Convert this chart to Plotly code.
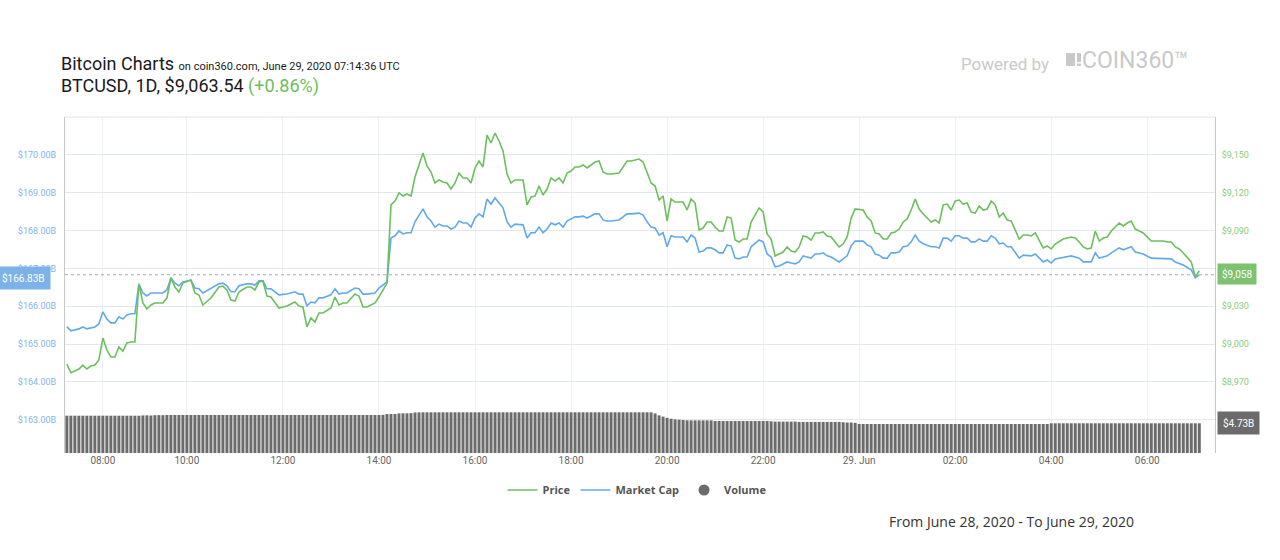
import plotly.graph_objects as go
import pandas as pd

# ---------------- data ----------------
# sample times (June 28 from 07:15, June 29 after midnight); the feed has no samples 08:45-08:55
times = [
 "07:15","07:20","07:30","07:35","07:40","07:45","07:50","07:55","08:00","08:05","08:10","08:15","08:20","08:25","08:30","08:35","08:40",
 "09:00","09:05","09:10","09:15","09:20","09:30","09:35","09:40","09:45","09:50","09:55","10:05","10:10","10:15","10:20","10:30","10:40",
 "10:45","10:50","10:55","11:00","11:05","11:15","11:20","11:25","11:30","11:35","11:40","11:45","11:55","12:05","12:15","12:20","12:25",
 "12:30","12:35","12:40","12:45","12:50","13:00","13:05","13:10","13:15","13:20","13:30","13:35","13:40","13:45","13:55","14:00","14:10",
 "14:15","14:20","14:25","14:30","14:35","14:40","14:45","14:55","15:00","15:05","15:10","15:15","15:20","15:25","15:30","15:35","15:40",
 "15:45","15:50","15:55","16:00","16:05","16:10","16:15","16:20","16:25","16:30","16:35","16:40","16:45","16:50","17:00","17:05","17:10",
 "17:15","17:20","17:25","17:30","17:35","17:40","17:45","17:50","17:55","18:00","18:05","18:10","18:15","18:20","18:30","18:35","18:40",
 "18:45","18:50","19:00","19:05","19:10","19:15","19:25","19:30","19:35","19:40","19:45","19:50","19:55","20:00","20:05","20:10","20:20",
 "20:25","20:30","20:35","20:40","20:45","20:50","20:55","21:00","21:05","21:10","21:15","21:20","21:25","21:30","21:35","21:40","21:45",
 "21:55","22:00","22:05","22:10","22:15","22:20","22:25","22:30","22:35","22:40","22:45","22:50","22:55","23:00","23:05","23:10","23:15",
 "23:20","23:25","23:35","23:40","23:45","23:50","23:55","00:05","00:10","00:15","00:20","00:25","00:30","00:35","00:40","00:45","00:50",
 "00:55","01:00","01:05","01:10","01:15","01:20","01:30","01:35","01:40","01:45","01:50","01:55","02:00","02:05","02:10","02:15","02:20",
 "02:25","02:30","02:35","02:40","02:45","02:50","02:55","03:00","03:05","03:10","03:20","03:25","03:30","03:35","03:40","03:50","03:55",
 "04:00","04:05","04:15","04:25","04:30","04:35","04:40","04:45","04:50","04:55","05:00","05:05","05:10","05:15","05:25","05:30","05:35",
 "05:40","05:45","05:50","05:55","06:05","06:10","06:20","06:25","06:30","06:35","06:40","06:45","06:55","07:00","07:05"]

price = [
 8984.2,8977.3,8980.3,8983.4,8980.3,8982.6,8983.4,8987.4,9004.8,8995.3,8989.8,8989.8,8997.7,8994.5,9000.9,9001.7,9001.7,
 9047.6,9032.6,9027.8,9031.0,9032.6,9032.6,9036.5,9052.4,9045.3,9041.3,9048.4,9050.8,9040.5,9038.9,9031.0,9036.5,9045.3,
 9046.0,9042.9,9035.0,9034.2,9041.3,9045.3,9045.3,9042.9,9049.2,9050.0,9038.1,9037.3,9028.6,9030.2,9033.4,9030.2,9029.4,
 9013.6,9020.7,9017.5,9024.7,9024.7,9028.6,9037.3,9031.0,9032.6,9032.6,9039.7,9038.1,9029.4,9029.4,9032.6,9037.3,9048.4,
 9110.3,9113.4,9119.8,9117.4,9119.0,9117.4,9132.4,9151.5,9141.2,9136.4,9127.7,9130.1,9128.5,9127.7,9122.9,9127.7,9135.6,
 9131.7,9131.7,9127.7,9139.6,9145.1,9140.4,9165.7,9159.4,9167.3,9161.0,9153.1,9134.8,9127.7,9130.1,9130.1,9110.3,9116.6,
 9117.4,9125.3,9118.2,9122.9,9131.7,9129.3,9131.7,9127.7,9135.6,9137.2,9140.4,9140.4,9142.0,9139.6,9144.3,9145.1,9136.4,
 9134.8,9134.8,9135.6,9140.4,9145.1,9145.1,9146.7,9144.3,9135.6,9127.7,9125.3,9114.2,9117.4,9097.6,9115.0,9112.6,9112.6,
 9106.3,9115.0,9111.8,9090.4,9092.0,9096.8,9096.8,9092.8,9089.6,9089.6,9100.7,9099.9,9082.5,9080.9,9083.3,9083.3,9096.8,
 9107.9,9104.7,9087.3,9083.3,9069.8,9071.4,9073.0,9077.0,9073.8,9073.0,9077.0,9085.7,9084.9,9082.5,9088.1,9088.1,9088.9,
 9085.7,9084.9,9077.0,9079.3,9084.9,9099.9,9107.1,9106.3,9100.7,9097.6,9088.1,9087.3,9083.3,9083.3,9088.1,9088.9,9091.2,
 9096.8,9099.2,9106.3,9115.0,9107.1,9103.1,9096.8,9098.4,9096.0,9110.3,9111.0,9106.3,9113.4,9114.2,9111.0,9111.8,9104.7,
 9103.9,9109.5,9106.3,9107.1,9113.4,9110.3,9100.7,9103.9,9098.4,9097.6,9083.3,9086.5,9086.5,9085.7,9088.1,9076.2,9077.8,
 9075.4,9079.3,9083.3,9084.9,9084.1,9080.9,9077.0,9075.4,9076.2,9089.6,9081.7,9084.1,9084.9,9089.6,9096.0,9093.6,9096.0,
 9097.6,9091.2,9089.6,9088.1,9081.7,9081.7,9081.7,9080.9,9080.9,9077.0,9075.4,9072.2,9065.1,9053.2,9058.0]

market_cap = [
 165.46,165.35,165.40,165.45,165.40,165.43,165.45,165.53,165.85,165.66,165.56,165.56,165.72,165.66,165.77,165.80,165.80,
 166.59,166.35,166.27,166.35,166.35,166.35,166.43,166.75,166.61,166.54,166.64,166.69,166.48,166.46,166.35,166.46,166.59,
 166.61,166.54,166.38,166.38,166.54,166.59,166.59,166.56,166.67,166.67,166.46,166.46,166.30,166.32,166.38,166.32,166.32,
 166.01,166.11,166.09,166.22,166.22,166.30,166.46,166.32,166.35,166.35,166.48,166.46,166.32,166.32,166.35,166.48,166.64,
 167.80,167.86,167.99,167.91,167.94,167.94,168.23,168.57,168.36,168.25,168.09,168.17,168.12,168.12,168.04,168.09,168.25,
 168.20,168.20,168.09,168.33,168.44,168.36,168.83,168.70,168.86,168.73,168.60,168.23,168.09,168.17,168.15,167.80,167.94,
 167.94,168.09,167.94,168.04,168.20,168.15,168.20,168.09,168.25,168.31,168.36,168.36,168.38,168.33,168.44,168.44,168.28,
 168.25,168.25,168.28,168.36,168.44,168.44,168.46,168.41,168.23,168.09,168.07,167.88,167.94,167.57,167.86,167.83,167.83,
 167.70,167.88,167.80,167.43,167.46,167.54,167.54,167.49,167.41,167.41,167.62,167.59,167.27,167.25,167.30,167.30,167.57,
 167.75,167.70,167.38,167.30,167.04,167.06,167.12,167.17,167.14,167.12,167.17,167.33,167.30,167.27,167.38,167.38,167.41,
 167.33,167.30,167.17,167.25,167.33,167.59,167.72,167.72,167.62,167.57,167.38,167.35,167.27,167.27,167.41,167.41,167.43,
 167.57,167.59,167.70,167.88,167.72,167.65,167.57,167.57,167.54,167.80,167.80,167.72,167.86,167.86,167.80,167.80,167.70,
 167.70,167.78,167.72,167.72,167.86,167.80,167.65,167.67,167.57,167.57,167.27,167.35,167.35,167.33,167.38,167.17,167.22,
 167.14,167.25,167.30,167.33,167.30,167.27,167.17,167.17,167.17,167.41,167.27,167.30,167.33,167.41,167.54,167.49,167.54,
 167.57,167.43,167.41,167.38,167.27,167.27,167.27,167.27,167.25,167.17,167.14,167.09,166.96,166.75,166.83]

# 24h volume (billions USD), one bar every 5 minutes
volume_early = [  # 07:15 .. 08:40
 5.94,5.94,5.94,5.94,5.94,5.94,
 5.94,5.94,5.94,5.94,5.94,5.94,5.94,5.94,5.94,5.94,5.94,5.94]
volume_late = [   # 09:00 .. 07:05 next day
 5.94,5.98,6.00,5.97,6.02,6.03,6.02,6.05,6.05,6.05,6.05,6.05,
 6.05,6.05,6.05,6.05,6.05,6.05,6.05,6.05,6.05,6.05,6.05,6.05,
 6.05,6.05,6.05,6.05,6.05,6.05,6.05,6.05,6.05,6.05,6.05,6.05,
 6.05,6.05,6.05,6.05,6.05,6.05,6.05,6.05,6.05,6.05,6.05,6.05,
 6.05,6.05,6.05,6.05,6.05,6.05,6.05,6.05,6.05,6.05,6.05,6.05,
 6.05,6.08,6.20,6.22,6.22,6.30,6.32,6.32,6.35,6.45,6.47,6.48,
 6.48,6.48,6.48,6.48,6.48,6.48,6.48,6.48,6.48,6.48,6.48,6.48,
 6.48,6.48,6.48,6.48,6.48,6.48,6.48,6.48,6.48,6.48,6.48,6.48,
 6.48,6.48,6.48,6.48,6.48,6.48,6.48,6.48,6.48,6.48,6.48,6.48,
 6.48,6.48,6.48,6.48,6.48,6.48,6.48,6.48,6.48,6.48,6.48,6.48,
 6.48,6.48,6.48,6.48,6.48,6.48,6.48,6.48,6.48,6.30,6.00,5.80,
 5.60,5.45,5.35,5.30,5.25,5.20,5.20,5.20,5.20,5.20,5.20,5.20,
 5.10,5.10,5.10,5.10,5.10,5.10,5.10,5.10,5.10,5.10,5.10,5.10,
 5.10,5.10,5.05,5.00,5.00,5.00,5.00,5.00,5.00,4.95,4.95,4.95,
 4.95,4.95,4.95,4.95,4.95,4.95,4.95,4.95,4.90,4.85,4.85,4.80,
 4.62,4.62,4.62,4.62,4.62,4.62,4.62,4.62,4.62,4.62,4.62,4.62,
 4.62,4.62,4.62,4.62,4.62,4.62,4.62,4.62,4.62,4.62,4.62,4.62,
 4.62,4.62,4.62,4.62,4.62,4.62,4.62,4.62,4.62,4.62,4.62,4.62,
 4.62,4.62,4.62,4.62,4.62,4.62,4.62,4.62,4.62,4.62,4.62,4.62,
 4.73,4.73,4.73,4.73,4.73,4.73,4.73,4.73,4.73,4.73,4.73,4.73,
 4.73,4.73,4.73,4.73,4.73,4.73,4.73,4.73,4.73,4.73,4.73,4.73,
 4.73,4.73,4.73,4.73,4.73,4.73,4.73,4.73,4.73,4.73,4.73,4.73,
 4.73,4.73]

tick_times = ["2020-06-28 08:00","2020-06-28 10:00","2020-06-28 12:00","2020-06-28 14:00","2020-06-28 16:00",
              "2020-06-28 18:00","2020-06-28 20:00","2020-06-28 22:00","2020-06-29 00:00","2020-06-29 02:00",
              "2020-06-29 04:00","2020-06-29 06:00"]
tick_labels = ["08:00","10:00","12:00","14:00","16:00","18:00","20:00","22:00","29. Jun","02:00","04:00","06:00"]
cap_ticks = [163, 164, 165, 166, 167, 168, 169, 170]
price_ticks = [8970, 9000, 9030, 9090, 9120, 9150]

header_price = 9063.54
header_change = 0.86

# ---------------- build ----------------
x_line = [("2020-06-28 " if t >= "07:15" else "2020-06-29 ") + t for t in times]
x_vol = list(pd.date_range("2020-06-28 07:15", periods=len(volume_early), freq="5min")) + \
        list(pd.date_range("2020-06-28 09:00", periods=len(volume_late), freq="5min"))
volume = volume_early + volume_late

GREEN = "#6cbf5c"
BLUE = "#62a9ec"
GREY = "#6b6b6b"

fig = go.Figure()
fig.add_trace(go.Bar(x=x_vol, y=volume, yaxis="y3", marker=dict(color=GREY, line=dict(width=0)),
                     showlegend=False, name="Volume"))
fig.add_trace(go.Scatter(x=x_line, y=price, yaxis="y2", mode="lines", name="Price",
                         line=dict(color=GREEN, width=1.6)))
fig.add_trace(go.Scatter(x=x_line, y=market_cap, yaxis="y", mode="lines", name="Market Cap",
                         line=dict(color=BLUE, width=1.6)))
fig.add_trace(go.Scatter(x=[None], y=[None], mode="markers", name="Volume",
                         marker=dict(color=GREY, size=11, symbol="circle")))

def px_x(p):
    return (p - 65) / 1150.0

def px_y(p):
    return (453 - p) / 336.0

annotations = [
    dict(text="Bitcoin Charts <span style='font-size:11px'>on coin360.com, June 29, 2020 07:14:36 UTC</span>",
         x=px_x(59), y=px_y(64), xref="paper", yref="paper", xanchor="left", yanchor="middle",
         showarrow=False, font=dict(family="Roboto", size=18, color="#1a1a1a")),
    dict(text=f"BTCUSD, 1D, ${header_price:,.2f} <span style='color:{GREEN}'>(+{header_change:.2f}%)</span>",
         x=px_x(59), y=px_y(86), xref="paper", yref="paper", xanchor="left", yanchor="middle",
         showarrow=False, font=dict(family="Roboto", size=18, color="#1a1a1a")),
    dict(text="Powered by", x=px_x(1051), y=px_y(64), xref="paper", yref="paper", xanchor="right",
         yanchor="middle", showarrow=False, font=dict(family="Roboto", size=17, color="#c9c9c9")),
    dict(text="COIN360™", x=px_x(1080), y=px_y(61), xref="paper", yref="paper", xanchor="left",
         yanchor="middle", showarrow=False, font=dict(family="Roboto", size=23, color="#c9c9c9")),
    dict(text="From June 28, 2020 - To June 29, 2020", x=px_x(1011), y=px_y(521), xref="paper", yref="paper",
         xanchor="center", yanchor="middle", showarrow=False, font=dict(family="Open Sans", size=14, color="#333333")),
    dict(text=f"${market_cap[-1]:.2f}B", x=0, xref="paper", xanchor="right", xshift=-14,
         y=market_cap[-1], yref="y", yanchor="middle", yshift=-3, showarrow=False,
         bgcolor="#7cb2e8", borderpad=5, font=dict(family="Roboto", size=10, color="white")),
    dict(text=f"${price[-1]:,.0f}", x=1, xref="paper", xanchor="left", xshift=2,
         y=price[-1], yref="y2", yanchor="middle", yshift=-3, showarrow=False,
         bgcolor="#7dc36f", borderpad=4, font=dict(family="Roboto", size=10, color="white")),
    dict(text=f"${volume[-1]:.2f}B", x=1, xref="paper", xanchor="left", xshift=2,
         y=volume[-1], yref="y3", yanchor="middle", showarrow=False,
         bgcolor="#6b6b6b", borderpad=5, font=dict(family="Roboto", size=10, color="white")),
]

shapes = [
    dict(type="line", xref="paper", yref="y", x0=0, x1=1, y0=market_cap[-1], y1=market_cap[-1],
         line=dict(color="#a8a8a8", width=1, dash="dot")),
    dict(type="line", xref="paper", yref="paper", x0=0, x1=1, y0=1, y1=1,
         line=dict(color="#dfe5ee", width=1)),
    # COIN360 logo blocks
    dict(type="rect", xref="paper", yref="paper", x0=px_x(1066), x1=px_x(1075), y0=px_y(66), y1=px_y(53),
         fillcolor="#c9c9c9", line=dict(width=0)),
    dict(type="rect", xref="paper", yref="paper", x0=px_x(1077), x1=px_x(1081), y0=px_y(62), y1=px_y(53),
         fillcolor="#c9c9c9", line=dict(width=0)),
    dict(type="rect", xref="paper", yref="paper", x0=px_x(1077), x1=px_x(1081), y0=px_y(66), y1=px_y(63.5),
         fillcolor="#c9c9c9", line=dict(width=0)),
]

fig.update_layout(
    width=1280, height=560,
    margin=dict(l=65, r=65, t=117, b=107),
    paper_bgcolor="white", plot_bgcolor="white",
    bargap=0.25,
    showlegend=True,
    legend=dict(orientation="h", x=px_x(637), xanchor="center", y=px_y(490), yanchor="middle",
                font=dict(family="Open Sans", size=11, color="#555555", weight="bold"),
                bgcolor="rgba(0,0,0,0)"),
    xaxis=dict(type="date", range=["2020-06-28 07:12:40", "2020-06-29 07:24:38"],
               rangebreaks=[dict(bounds=["2020-06-28 08:42:30", "2020-06-28 08:57:30"])],
               tickmode="array", tickvals=tick_times, ticktext=tick_labels,
               showgrid=True, gridcolor="#eef1f5", zeroline=False, showline=False,
               tickfont=dict(family="Roboto", size=10, color="#666666"), ticks=""),
    yaxis=dict(range=[162.12, 171.0], side="left", tickmode="array", tickvals=cap_ticks,
               ticktext=[f"${v:.2f}B" for v in cap_ticks], showgrid=True, gridcolor="#e1e7ef",
               zeroline=False, showline=True, linecolor="#c8c8c8", linewidth=1,
               ticklabelstandoff=6,
               tickfont=dict(family="Roboto", size=9, color="#7fb5ec")),
    yaxis2=dict(range=[8913.7, 9180.0], side="right", overlaying="y", tickmode="array",
                tickvals=price_ticks, ticktext=[f"${v:,}" for v in price_ticks], showgrid=False,
                zeroline=False, showline=True, linecolor="#c8c8c8", linewidth=1,
                ticklabelstandoff=4,
                tickfont=dict(family="Roboto", size=9, color="#86cc7c")),
    yaxis3=dict(range=[0, 53.5], overlaying="y", visible=False),
    annotations=annotations,
    shapes=shapes,
)

fig.write_html("out.html")
